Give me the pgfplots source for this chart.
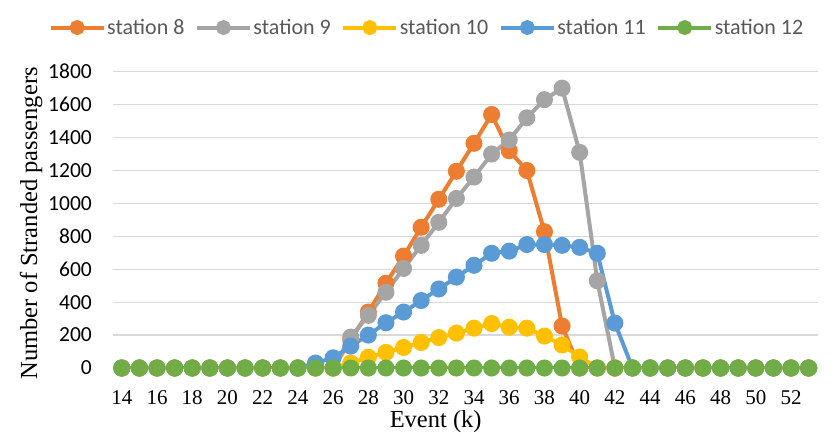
\documentclass[border=0pt]{standalone}
\usepackage{pgfplots}
\pgfplotsset{compat=1.18}
\usepackage{pgfplotstable}
\usepackage{fontspec}
\setmainfont{Liberation Serif}
\newfontfamily\carlito{Carlito}
\definecolor{cOr}{HTML}{ED7D31}
\definecolor{cGr}{HTML}{A5A5A5}
\definecolor{cYe}{HTML}{FFC000}
\definecolor{cBl}{HTML}{5B9BD5}
\definecolor{cGn}{HTML}{70AD47}
\definecolor{gridc}{HTML}{D9D9D9}
\definecolor{legc}{HTML}{595959}

\pgfplotstableread{
k s8 s9 s10 s11 s12
14 0 0 0 0 0
15 0 0 0 0 0
16 0 0 0 0 0
17 0 0 0 0 0
18 0 0 0 0 0
19 0 0 0 0 0
20 0 0 0 0 0
21 0 0 0 0 0
22 0 0 0 0 0
23 0 0 0 0 0
24 0 0 0 0 0
25 0 0 0 30 0
26 0 0 0 62 0
27 170 188 30 133 0
28 340 320 65 200 0
29 515 460 95 275 0
30 680 605 125 340 0
31 855 745 155 410 0
32 1025 885 185 480 0
33 1195 1030 212 552 0
34 1365 1160 242 624 0
35 1540 1300 270 697 0
36 1320 1385 248 710 0
37 1200 1520 242 750 0
38 828 1630 194 750 0
39 255 1700 140 745 0
40 0 1310 67 733 0
41 0 530 0 697 0
42 0 0 0 273 0
43 0 0 0 0 0
44 0 0 0 0 0
45 0 0 0 0 0
46 0 0 0 0 0
47 0 0 0 0 0
48 0 0 0 0 0
49 0 0 0 0 0
50 0 0 0 0 0
51 0 0 0 0 0
52 0 0 0 0 0
53 0 0 0 0 0
}\datatable

\begin{document}
\begin{tikzpicture}
\useasboundingbox (-113pt,-77pt) rectangle (718pt,368pt);
\begin{axis}[
  at={(0pt,0pt)}, anchor=south west,
  scale only axis,
  width=705.3pt, height=296.3pt,
  xmin=13.5, xmax=53.55,
  ymin=0, ymax=1800,
  xtick={14,16,...,52},
  ytick={0,200,...,1800},
  major tick length=0pt,
  axis line style={draw=none},
  axis x line*=bottom,
  axis y line*=left,
  ymajorgrids,
  grid style={gridc, line width=1.2pt},
  /pgf/number format/assume math mode=true,
  /pgf/number format/1000 sep={},
  xticklabel style={font=\fontsize{21}{21}\selectfont, inner sep=0pt, anchor=north, yshift=-22pt},
  yticklabel style={font=\carlito\fontsize{21.5}{21.5}\selectfont, inner sep=0pt, anchor=east, xshift=-21pt, text=black},
  xlabel={Event (k)},
  ylabel={Number of Stranded passengers},
  xlabel style={font=\fontsize{24.5}{24.5}\selectfont, inner sep=0pt, at={(axis description cs:0.4575,-0.181)}, anchor=center},
  ylabel style={font=\fontsize{24.5}{24.5}\selectfont, inner sep=0pt, at={(axis description cs:-0.116,0.488)}, anchor=center},
  legend columns=5,
  legend style={draw=none, fill=none, at={(axis description cs:0.4448,1.149)}, anchor=center,
    font=\carlito\fontsize{22}{22}\selectfont, text=legc,
    inner sep=0pt,
    nodes={inner sep=1.5pt},
    /tikz/every even column/.append style={column sep=9pt}},
  legend image code/.code={\draw[#1, mark size=5.5pt, mark repeat=2, mark phase=2] plot coordinates {(0pt,0pt)(26.5pt,0pt)(53pt,0pt)};},
  every axis plot/.append style={line width=4pt, mark=*, mark size=6.5pt, mark options={solid}},
]
\addplot[cOr, mark options={fill=cOr, draw=cOr}] table[x=k, y=s8] {\datatable};
\addlegendentry{station 8}
\addplot[cGr, mark options={fill=cGr, draw=cGr}] table[x=k, y=s9] {\datatable};
\addlegendentry{station 9}
\addplot[cYe, mark options={fill=cYe, draw=cYe}] table[x=k, y=s10] {\datatable};
\addlegendentry{station 10}
\addplot[cBl, mark options={fill=cBl, draw=cBl}] table[x=k, y=s11] {\datatable};
\addlegendentry{station 11}
\addplot[cGn, mark options={fill=cGn, draw=cGn}] table[x=k, y=s12] {\datatable};
\addlegendentry{station 12}
\end{axis}
\end{tikzpicture}
\end{document}
